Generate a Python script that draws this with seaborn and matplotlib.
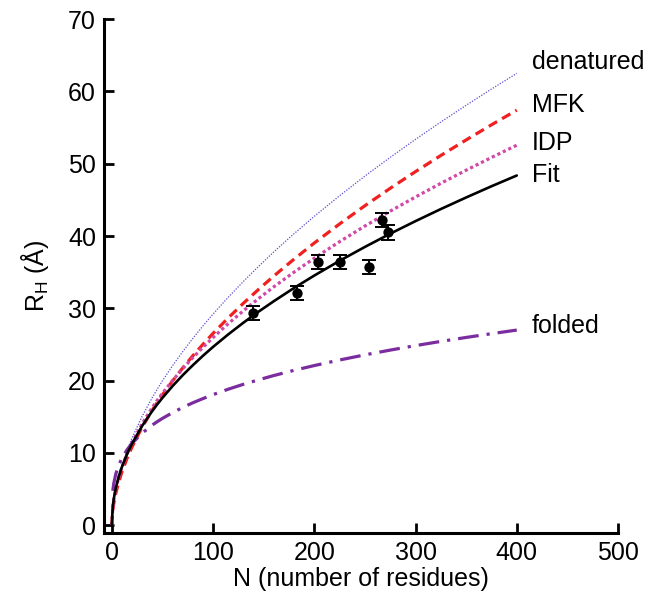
import matplotlib
matplotlib.use("Agg")
import matplotlib.pyplot as plt
import seaborn as sns
import pandas as pd

# ---- data ----
N_grid = [0, 1, 2, 4, 7, 10, 15, 20, 30, 40, 45, 50, 60, 70, 80, 90, 100, 115, 130, 145,
          160, 180, 200, 225, 250, 275, 300, 325, 350, 375, 400]
fit_R = [0, 2.63, 3.68, 5.16, 6.77, 8.05, 9.81, 11.28, 13.74, 15.80, 16.73, 17.61, 19.24,
         20.74, 22.12, 23.43, 24.66, 26.39, 28.01, 29.54, 30.98, 32.81, 34.53, 36.57, 38.49,
         40.32, 42.06, 43.73, 45.33, 46.88, 48.37]
idp_R = [0, 2.49, 3.54, 5.04, 6.70, 8.04, 9.88, 11.44, 14.06, 16.28, 17.29, 18.24, 20.01,
         21.65, 23.17, 24.60, 25.95, 27.87, 29.66, 31.35, 32.97, 35.00, 36.93, 39.22, 41.38,
         43.44, 45.40, 47.29, 49.10, 50.86, 52.56]
mfk_R = [0, 2.04, 3.00, 4.42, 6.03, 7.36, 9.22, 10.82, 13.57, 15.92, 17.00, 18.03, 19.95,
         21.74, 23.43, 25.01, 26.53, 28.67, 30.70, 32.62, 34.46, 36.80, 39.03, 41.67, 44.19,
         46.60, 48.91, 51.14, 53.29, 55.38, 57.41]
den_R = [0, 2.33, 3.41, 4.99, 6.78, 8.25, 10.30, 12.07, 15.08, 17.66, 18.84, 19.96, 22.06,
         24.00, 25.83, 27.56, 29.20, 31.53, 33.72, 35.80, 37.80, 40.32, 42.72, 45.57, 48.29,
         50.88, 53.37, 55.77, 58.08, 60.33, 62.50]
N_fold = [1, 2, 4, 7, 10, 15, 20, 30, 40, 45, 50, 60, 70, 80, 90, 100, 115, 130, 145, 160,
          180, 200, 225, 250, 275, 300, 325, 350, 375, 400]
fold_R = [4.75, 5.81, 7.10, 8.35, 9.26, 10.42, 11.32, 12.74, 13.85, 14.33, 14.77, 15.57,
          16.28, 16.93, 17.51, 18.06, 18.81, 19.49, 20.11, 20.70, 21.42, 22.08, 22.85, 23.56,
          24.22, 24.84, 25.42, 25.97, 26.49, 26.99]

pts_N = [139, 183, 204, 225, 254, 267, 273]
pts_R = [29.4, 32.1, 36.4, 36.4, 35.7, 42.2, 40.5]
pts_err = [0.95, 0.95, 1.0, 1.0, 1.0, 1.0, 1.0]

labels = ["denatured", "MFK", "IDP", "Fit", "folded"]
label_y = [64.1, 58.1, 52.8, 48.4, 27.5]

# ---- style ----
sns.set_theme(style="ticks")
plt.rcParams["font.family"] = ["Liberation Sans", "DejaVu Sans"]
plt.rcParams["mathtext.fontset"] = "custom"
plt.rcParams["mathtext.rm"] = "Liberation Sans"

fig = plt.figure(figsize=(6.47, 5.94), dpi=100)
ax = fig.add_axes([0.1612, 0.1027, 0.9552 - 0.1612, 0.9678 - 0.1027])

curves = [
    (N_grid, den_R, "#5a4fcf", 0.9, (0, (1, 1.2))),
    (N_grid, mfk_R, "#f02020", 2.3, (0, (3, 1.8))),
    (N_grid, idp_R, "#d048a8", 2.3, (0, (1, 0.9))),
    (N_fold, fold_R, "#7b2c9e", 2.3, (0, (6.5, 2.5, 1, 2.5))),
    (N_grid, fit_R, "black", 1.9, "-"),
]
for xs, ys, col, lw, ls in curves:
    df = pd.DataFrame({"N": xs, "R": ys})
    sns.lineplot(data=df, x="N", y="R", ax=ax, color=col, linewidth=lw,
                 linestyle=ls, sort=False, estimator=None)

ax.errorbar(pts_N, pts_R, yerr=pts_err, fmt="none", ecolor="black",
            elinewidth=1.4, capsize=5, capthick=1.4, zorder=4)
sns.scatterplot(x=pts_N, y=pts_R, ax=ax, color="black", s=55, edgecolor="black",
                linewidth=0, zorder=5)

for lab, ly in zip(labels, label_y):
    ax.text(415, ly, lab, fontsize=18, ha="left", va="center", color="black")

ax.set_xlim(-7.4, 500)
ax.set_ylim(-1.08, 70)
ax.set_xticks([0, 100, 200, 300, 400, 500])
ax.set_yticks([0, 10, 20, 30, 40, 50, 60, 70])
ax.tick_params(direction="in", length=7, width=2, labelsize=18, pad=6, colors="black")
for s in ["top", "right"]:
    ax.spines[s].set_visible(False)
for s in ["left", "bottom"]:
    ax.spines[s].set_linewidth(2.2)
    ax.spines[s].set_color("black")

ax.set_xlabel("N (number of residues)", fontsize=18, labelpad=1, color="black")
ax.set_ylabel(r"R$_\mathregular{H}$ (Å)", fontsize=18, labelpad=12, color="black")

fig.savefig("out.png", dpi=100)
